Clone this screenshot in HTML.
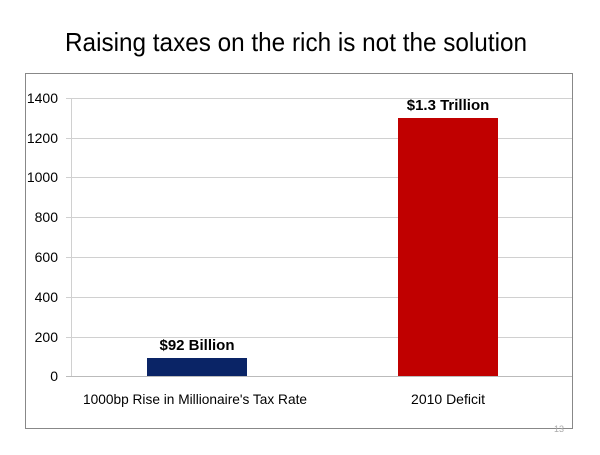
<!DOCTYPE html>
<html><head><style>
body{margin:0;width:600px;height:450px;background:#fff;overflow:hidden;font-family:"Liberation Sans",sans-serif}
</style></head><body>
<svg width="600" height="450" xmlns="http://www.w3.org/2000/svg">
<text x="65" y="51" textLength="462" lengthAdjust="spacingAndGlyphs" font-family="Liberation Sans" font-size="26" fill="#000">Raising taxes on the rich is not the solution</text>
<rect x="25.5" y="73.5" width="547" height="355" fill="none" stroke="#888" stroke-width="1"/>
<g stroke="#d0d0d0" stroke-width="1">
<line x1="66" y1="98.5" x2="572" y2="98.5"/>
<line x1="66" y1="138.5" x2="572" y2="138.5"/>
<line x1="66" y1="177.5" x2="572" y2="177.5"/>
<line x1="66" y1="217.5" x2="572" y2="217.5"/>
<line x1="66" y1="257.5" x2="572" y2="257.5"/>
<line x1="66" y1="297.5" x2="572" y2="297.5"/>
<line x1="66" y1="337.5" x2="572" y2="337.5"/>
<line x1="71.5" y1="98" x2="71.5" y2="377"/>
</g>
<line x1="66" y1="376.5" x2="572" y2="376.5" stroke="#bbb"/>
<g font-size="14" fill="#000" text-anchor="end" font-family="Liberation Sans">
<text x="58" y="103">1400</text><text x="58" y="143">1200</text><text x="58" y="182">1000</text>
<text x="58" y="222">800</text><text x="58" y="262">600</text><text x="58" y="302">400</text>
<text x="58" y="342">200</text><text x="58" y="381">0</text>
</g>
<rect x="147" y="358" width="100" height="18" fill="#0a2466"/>
<rect x="398" y="118" width="100" height="258" fill="#c00000"/>
<text x="197" y="350" text-anchor="middle" font-size="15" font-weight="bold">$92 Billion</text>
<text x="448" y="110" text-anchor="middle" font-size="15" font-weight="bold">$1.3 Trillion</text>
<text x="195" y="404" text-anchor="middle" font-size="14" textLength="224" lengthAdjust="spacingAndGlyphs">1000bp Rise in Millionaire's Tax Rate</text>
<text x="448" y="404" text-anchor="middle" font-size="14">2010 Deficit</text>
<text x="564" y="432" text-anchor="end" font-size="9" fill="#aaa">13</text>
</svg>
</body></html>
